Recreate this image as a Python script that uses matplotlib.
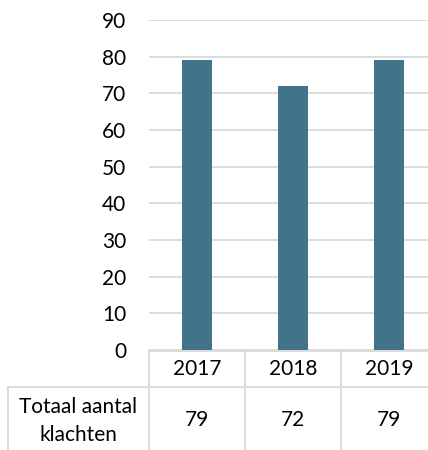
import matplotlib
matplotlib.use("Agg")
import matplotlib.pyplot as plt
from matplotlib.lines import Line2D

# data
jaren = ["2017", "2018", "2019"]
klachten = [79, 72, 79]
rij_label = "Totaal aantal\nklachten"
yticks = list(range(0, 100, 10))

W, H = 428, 450
fig = plt.figure(figsize=(W / 100, H / 100), dpi=100)
plt.rcParams['font.family'] = ['Lato', 'DejaVu Sans']

def fx(px):
    return px / W

def fy(py):
    return 1 - py / H

bar_color = "#41738b"
grid_color = "#d9d9d9"
fs = 15

# plot area: x from 149 to 437 px (right edge cut), y from 20 to 350 px
ax = fig.add_axes([fx(149), fy(350), fx(437 - 149), fy(20) - fy(350)])
x = range(len(jaren))
ax.bar(x, klachten, width=0.31, color=bar_color, zorder=3)
ax.set_xlim(-0.5, 2.5)
ax.set_ylim(0, 90)
ax.set_yticks(yticks)
ax.set_yticklabels([str(t) for t in yticks], fontsize=fs)
ax.tick_params(axis="y", length=0, pad=16.5)
ax.set_xticks([])
ax.grid(axis="y", color=grid_color, linewidth=1.3, zorder=0)
for s in ax.spines.values():
    s.set_visible(False)

# data table below
lc = grid_color
lw = 1.3
lines = [
    ((149, 437), (351, 351)),
    ((8, 437), (387, 387)),
    ((8, 8), (387, 450)),
    ((149, 149), (351, 450)),
    ((245, 245), (351, 450)),
    ((341, 341), (351, 450)),
]
for xs, ys in lines:
    fig.add_artist(Line2D([fx(v) for v in xs], [fy(v) for v in ys],
                          color=lc, linewidth=lw))

centers = [149 + 48 + 96 * i for i in range(len(jaren))]
for c, j, k in zip(centers, jaren, klachten):
    fig.text(fx(c), fy(369), j, ha="center", va="center", fontsize=fs)
    fig.text(fx(c), fy(420), str(k), ha="center", va="center", fontsize=fs)
fig.text(fx(78), fy(421), rij_label, ha="center", va="center",
         fontsize=fs, linespacing=1.45)

fig.savefig("out.png", dpi=100)
